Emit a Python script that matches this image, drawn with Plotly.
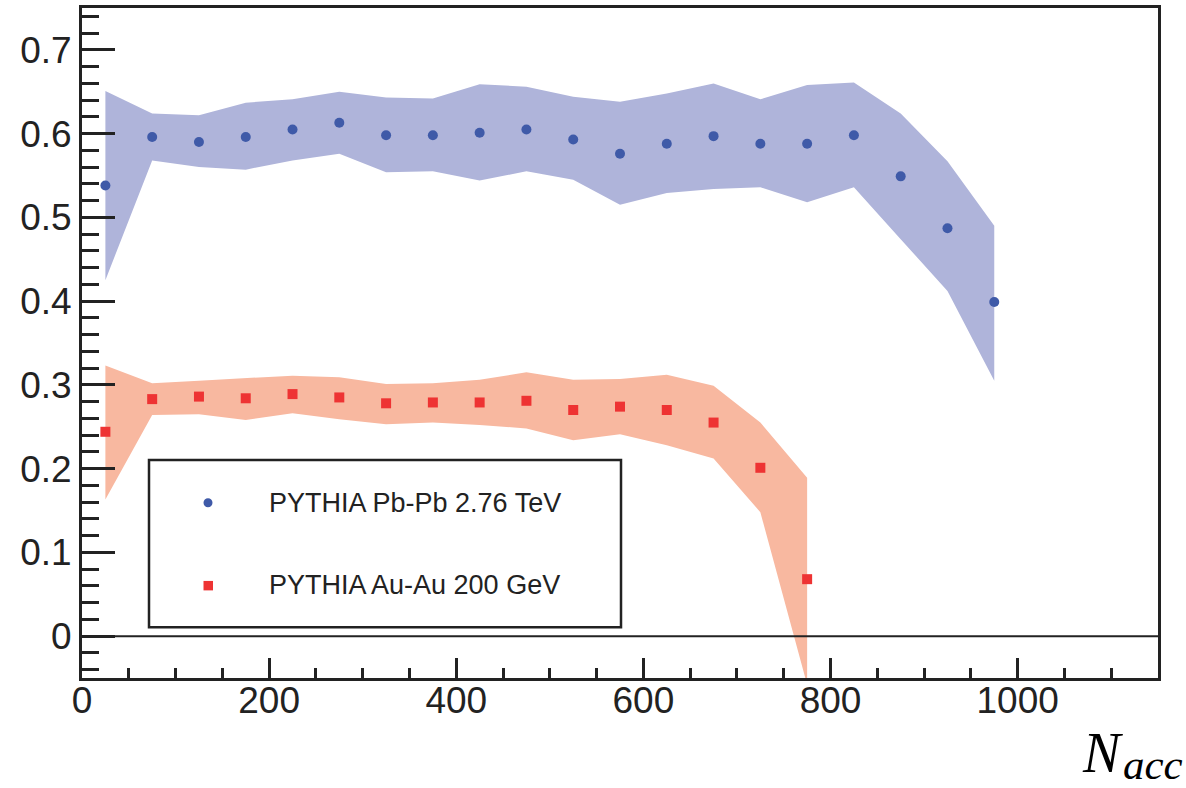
import plotly.graph_objects as go

# ---------------- data ----------------
x_pb = [25, 75, 125, 175, 225, 275, 325, 375, 425, 475,
        525, 575, 625, 675, 725, 775, 825, 875, 925, 975]
y_pb = [0.538, 0.596, 0.590, 0.596, 0.605, 0.613, 0.598, 0.598, 0.601, 0.605,
        0.593, 0.576, 0.588, 0.597, 0.588, 0.588, 0.598, 0.549, 0.487, 0.399]
up_pb = [0.651, 0.624, 0.622, 0.637, 0.641, 0.650, 0.643, 0.642, 0.659, 0.656,
         0.644, 0.638, 0.648, 0.660, 0.641, 0.658, 0.661, 0.624, 0.567, 0.490]
lo_pb = [0.425, 0.568, 0.560, 0.557, 0.568, 0.576, 0.554, 0.555, 0.544, 0.555,
         0.545, 0.515, 0.529, 0.534, 0.536, 0.518, 0.536, 0.474, 0.412, 0.305]

x_au = [25, 75, 125, 175, 225, 275, 325, 375, 425, 475,
        525, 575, 625, 675, 725, 775]
y_au = [0.244, 0.283, 0.286, 0.284, 0.289, 0.285, 0.278, 0.279, 0.279, 0.281,
        0.270, 0.274, 0.270, 0.255, 0.201, 0.068]
up_au = [0.323, 0.302, 0.305, 0.308, 0.311, 0.309, 0.301, 0.302, 0.306, 0.315,
         0.306, 0.307, 0.312, 0.299, 0.255, 0.189]
lo_au = [0.163, 0.264, 0.265, 0.258, 0.266, 0.259, 0.253, 0.255, 0.252, 0.248,
         0.234, 0.241, 0.228, 0.212, 0.148, -0.058]

labels = ["PYTHIA Pb-Pb 2.76 TeV", "PYTHIA Au-Au 200 GeV"]
x_title_main = "N"
x_title_sub = "acc"

# ---------------- style ----------------
W, H = 1186, 788
L, R, T, B = 82, 1158, 5, 678
BLUE_FILL = "#AFB4DA"
BLUE = "#3F5AA8"
RED_FILL = "#F8B8A0"
RED = "#EE3333"
INK = "#222222"
FONT = "Liberation Sans, Arial, sans-serif"
SERIF = "Liberation Serif, serif"


def px(xp):
    return (xp - L) / (R - L)


def py(yp):
    return (B - yp) / (B - T)


fig = go.Figure()

fig.add_trace(go.Scatter(x=x_pb + x_pb[::-1], y=up_pb + lo_pb[::-1],
                         fill="toself", fillcolor=BLUE_FILL, mode="lines",
                         line=dict(width=0, color=BLUE_FILL), hoverinfo="skip"))
fig.add_trace(go.Scatter(x=x_au + x_au[::-1], y=up_au + lo_au[::-1],
                         fill="toself", fillcolor=RED_FILL, mode="lines",
                         line=dict(width=0, color=RED_FILL), hoverinfo="skip"))
fig.add_trace(go.Scatter(x=x_pb, y=y_pb, mode="markers", name=labels[0],
                         marker=dict(symbol="circle", size=10, color=BLUE)))
fig.add_trace(go.Scatter(x=x_au, y=y_au, mode="markers", name=labels[1],
                         marker=dict(symbol="square", size=10, color=RED)))

# zero line
fig.add_shape(type="line", xref="paper", yref="y", x0=0, x1=1, y0=0, y1=0,
              line=dict(color=INK, width=2))

# legend box (manual)
fig.add_shape(type="rect", xref="paper", yref="paper",
              x0=px(149), x1=px(621), y0=py(627), y1=py(459),
              line=dict(color=INK, width=2.5), fillcolor="white", layer="above")
fig.add_shape(type="circle", xref="paper", yref="paper",
              x0=px(203.5), x1=px(212.5), y0=py(506.5), y1=py(497.5),
              line=dict(width=0), fillcolor=BLUE, layer="above")
fig.add_shape(type="rect", xref="paper", yref="paper",
              x0=px(203.5), x1=px(213), y0=py(590), y1=py(580.5),
              line=dict(width=0), fillcolor=RED, layer="above")
for lab, yp in zip(labels, [502, 585]):
    fig.add_annotation(text=lab, xref="paper", yref="paper", x=px(267), y=py(yp),
                       xanchor="left", yanchor="middle", showarrow=False,
                       font=dict(family=FONT, size=27, color=INK))

# axis title N_acc, drawn as two pieces
fig.add_annotation(text="<i>%s</i>" % x_title_main, xref="paper", yref="paper",
                   x=px(1125), y=py(753), xanchor="right", yanchor="middle",
                   showarrow=False,
                   font=dict(family=SERIF, size=56, color="black"))
fig.add_annotation(text="<i>%s</i>" % x_title_sub, xref="paper", yref="paper",
                   x=px(1121), y=py(765), xanchor="left", yanchor="middle",
                   showarrow=False,
                   font=dict(family=SERIF, size=43, color="black"))

fig.update_xaxes(range=[0, 1150], tick0=0, dtick=200, ticks="inside", ticklen=20,
                 tickwidth=2.5, tickcolor=INK, showline=True, mirror=True,
                 linecolor=INK, linewidth=3, showgrid=False, zeroline=False,
                 ticklabelstandoff=-12,
                 tickfont=dict(family=FONT, size=37, color=INK),
                 minor=dict(dtick=50, tick0=0, ticks="inside", ticklen=10,
                            tickwidth=2.5, tickcolor=INK, showgrid=False))
fig.update_yaxes(range=[-0.05, 0.75], tick0=0, dtick=0.1, ticks="inside", ticklen=33,
                 tickwidth=2.5, tickcolor=INK, showline=True, mirror=True,
                 linecolor=INK, linewidth=3, showgrid=False, zeroline=False,
                 tickformat="~g",
                 tickfont=dict(family=FONT, size=37, color=INK),
                 minor=dict(dtick=0.02, tick0=0, ticks="inside", ticklen=17,
                            tickwidth=2.5, tickcolor=INK, showgrid=False))

fig.update_layout(width=W, height=H, showlegend=False,
                  margin=dict(l=L, r=W - R, t=T, b=H - B, pad=0),
                  plot_bgcolor="white", paper_bgcolor="white")

fig.write_html("out.html")
